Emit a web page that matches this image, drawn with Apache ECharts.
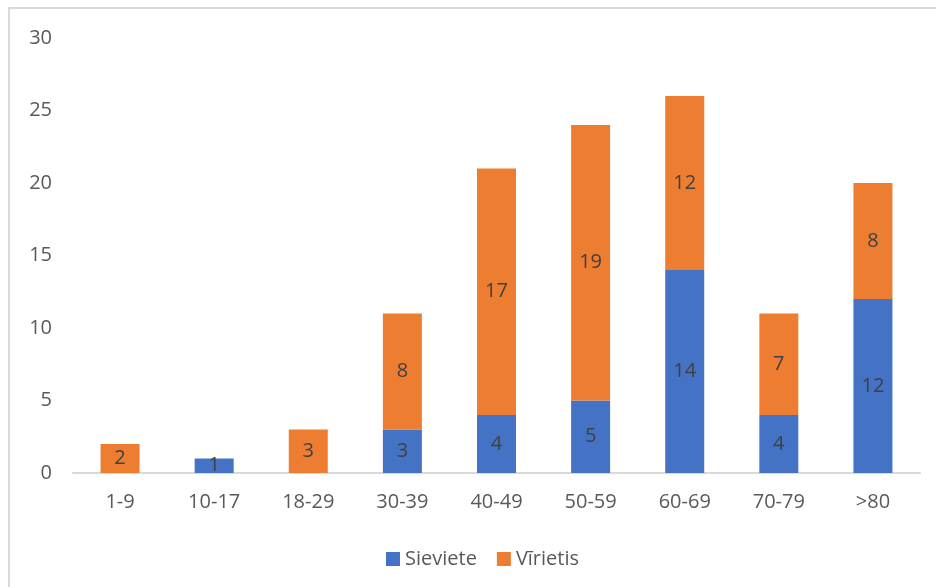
<!DOCTYPE html>
<html>
<head>
<meta charset="utf-8">
<script src="https://cdn.jsdelivr.net/npm/echarts@6/dist/echarts.min.js"></script>
<style>
html,body{margin:0;padding:0;background:#fff;}
#chart{width:936px;height:587px;}
</style>
</head>
<body>
<div id="chart"></div>
<script>
const categories = ['1-9','10-17','18-29','30-39','40-49','50-59','60-69','70-79','>80'];
const sieviete = [0,1,0,3,4,5,14,4,12];
const virietis = [2,0,3,8,17,19,12,7,8];
const yTicks = [0,5,10,15,20,25,30];

const FONT = '"Open Sans", "Noto Sans", sans-serif';
const chart = echarts.init(document.getElementById('chart'));
const labelCfg = {
  show: true,
  position: 'inside',
  color: '#404040',
  fontSize: 20,
  fontFamily: FONT,
  formatter: p => (p.value ? String(p.value) : '')
};
chart.setOption({
  animation: false,
  graphic: [{
    type: 'rect',
    shape: { x: 9, y: 8, width: 960, height: 620 },
    style: { fill: 'none', stroke: '#d9d9d9', lineWidth: 2 },
    silent: true
  }],
  grid: { left: 73, right: 16, top: 38, bottom: 114 },
  legend: {
    left: 381,
    top: 544,
    itemWidth: 14,
    itemHeight: 14,
    itemGap: 20,
    textStyle: { color: '#595959', fontSize: 20, fontFamily: FONT },
    data: [
      { name: 'Sieviete', icon: 'rect' },
      { name: 'Vīrietis', icon: 'rect' }
    ]
  },
  xAxis: {
    type: 'category',
    data: categories,
    axisLine: { lineStyle: { color: '#d9d9d9', width: 2 } },
    axisTick: { show: false },
    axisLabel: { color: '#595959', fontSize: 20, fontFamily: FONT, margin: 19 }
  },
  yAxis: {
    type: 'value',
    min: yTicks[0],
    max: yTicks[yTicks.length - 1],
    interval: 5,
    splitLine: { show: false },
    axisLine: { show: false },
    axisTick: { show: false },
    axisLabel: { color: '#595959', fontSize: 20, fontFamily: FONT, margin: 21 }
  },
  series: [
    {
      name: 'Sieviete',
      type: 'bar',
      stack: 'total',
      data: sieviete,
      barWidth: 39,
      itemStyle: { color: '#4472C4' },
      label: labelCfg
    },
    {
      name: 'Vīrietis',
      type: 'bar',
      stack: 'total',
      data: virietis,
      barWidth: 39,
      itemStyle: { color: '#ED7D31' },
      label: labelCfg
    }
  ]
});
</script>
</body>
</html>
